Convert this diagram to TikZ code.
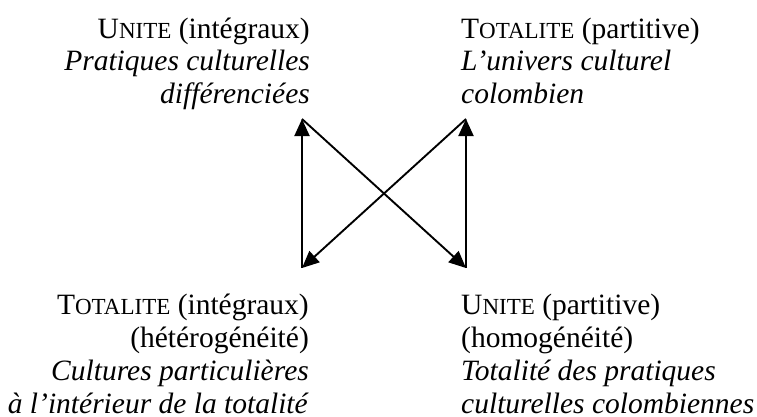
\documentclass[tikz,border=0pt]{standalone}
\usepackage{fontspec}
\setmainfont{Liberation Serif}
\usetikzlibrary{arrows.meta}
% small capitals imitated by a reduced size
\newcommand\smallcapstext[1]{{\fontsize{23}{33}\selectfont #1}}
\begin{document}
\begin{tikzpicture}[x=1pt,y=-1pt,
  label/.style={inner sep=0pt,font=\fontsize{29.5}{33}\selectfont},
  leftlabel/.style={label,align=right,anchor=base east},
  rightlabel/.style={label,align=left,anchor=base west},
  link/.style={line width=1.9pt,-{Triangle[length=17pt,width=15pt]}}]
\fill[white] (0,0) rectangle (757,417);
\useasboundingbox (0,0) rectangle (757,417);

% corners of the square of relations
\coordinate (tl) at (302,119);
\coordinate (tr) at (466,119);
\coordinate (bl) at (302,268);
\coordinate (br) at (466,268);

% the four poles (anchored on the baseline of their last line)
\node[leftlabel] (unitei) at (310,104)
  {U\smallcapstext{NITE} (intégraux)\\
   \textit{Pratiques culturelles}\\
   \textit{différenciées}};
\node[rightlabel] (totalitep) at (461,104)
  {T\smallcapstext{OTALITE} (partitive)\\
   \textit{L’univers culturel}\\
   \textit{colombien}};
\node[leftlabel] (totalitei) at (309,413.5)
  {T\smallcapstext{OTALITE} (intégraux)\\
   (hétérogénéité)\\
   \textit{Cultures particulières}\\
   \textit{à l’intérieur de la totalité}};
\node[rightlabel] (unitep) at (461,413.5)
  {U\smallcapstext{NITE} (partitive)\\
   (homogénéité)\\
   \textit{Totalité des pratiques}\\
   \textit{culturelles colombiennes}};

% relations between the poles
\draw[link] (bl) -- (tl);
\draw[link] (br) -- (tr);
\draw[link] (tl) -- (br);
\draw[link] (tr) -- (bl);
\end{tikzpicture}
\end{document}
